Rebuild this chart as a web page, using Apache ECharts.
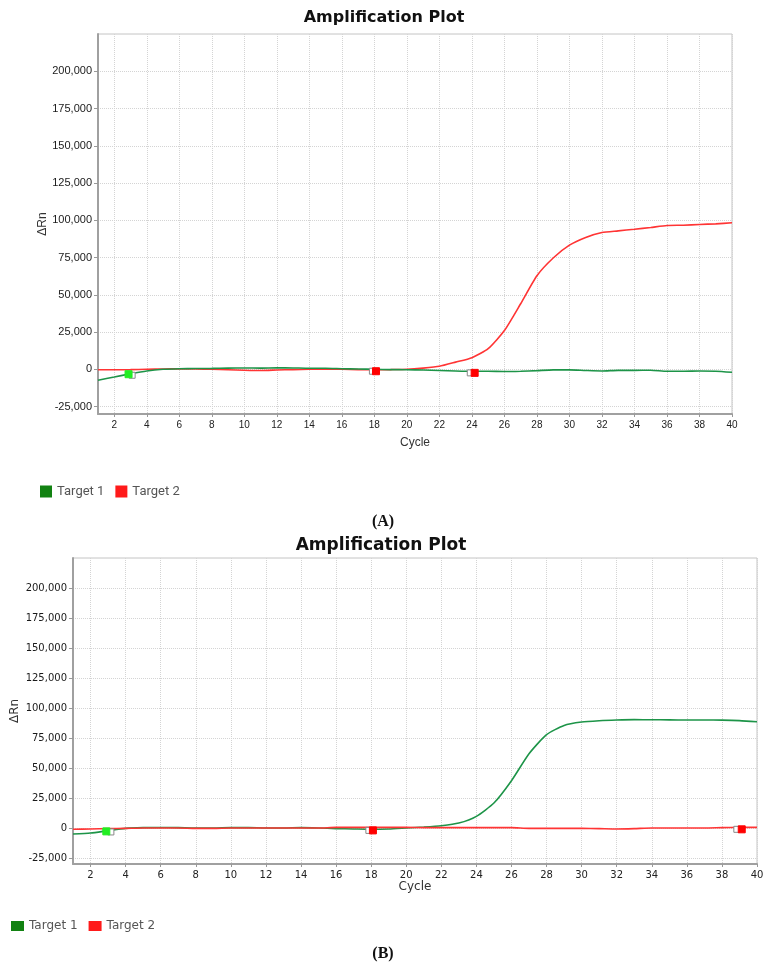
<!DOCTYPE html>
<html>
<head>
<meta charset="utf-8">
<script src="https://cdn.jsdelivr.net/npm/echarts@6/dist/echarts.min.js"></script>
<style>
  html, body { margin: 0; padding: 0; background: #fff; }
  #main { width: 769px; height: 971px; }
</style>
</head>
<body>
<div id="main"></div>
<script>
// cycles and tick values
var cycles = [1, 2, 3, 4, 5, 6, 7, 8, 9, 10, 11, 12, 13, 14, 15, 16, 17, 18, 19, 20,
	21, 22, 23, 24, 25, 26, 27, 28, 29, 30, 31, 32, 33, 34, 35, 36, 37, 38, 39, 40];
var xTicks = [2, 4, 6, 8, 10, 12, 14, 16, 18, 20, 22, 24, 26, 28, 30, 32, 34, 36, 38, 40];
var yTicks = [-25000, 0, 25000, 50000, 75000, 100000, 125000, 150000, 175000, 200000];

// (A) ΔRn per cycle
var aTarget1 = [-7300, -5200, -3000, -1100, 0, 400, 500, 600, 800, 900,
	800, 1000, 900, 700, 700, 400, 200, 0, -200, -300,
	-500, -800, -1100, -1300, -1300, -1500, -1300, -900, -400, -400,
	-800, -1100, -700, -700, -600, -1300, -1300, -1100, -1300, -2000];
var aTarget2 = [-300, -300, -200, 0, 200, 300, 200, 0, -300, -600,
	-800, -500, -200, 0, 100, 0, -200, -300, -200, 0,
	800, 2000, 4800, 7800, 13800, 26000, 44000, 62800, 74700, 83300,
	88500, 91800, 92900, 94000, 95200, 96500, 96700, 97200, 97600, 98300];

// (B) ΔRn per cycle
var bTarget1 = [-5000, -4200, -2200, -300, 300, 400, 300, 0, 0, 300,
	300, 0, 0, 300, 0, -500, -800, -1100, -800, 0,
	800, 1900, 4100, 9700, 20800, 39400, 61900, 77800, 85500, 88300,
	89400, 90000, 90300, 90200, 90100, 90000, 90000, 89900, 89500, 88600];
var bTarget2 = [-1100, -800, -500, -300, 0, 0, 0, -300, -300, 0,
	0, 0, 0, 0, 0, 500, 500, 500, 500, 500,
	300, 300, 300, 300, 300, 300, -300, -300, -300, -300,
	-500, -800, -500, 0, 0, 0, 0, 300, 500, 500];

// baseline markers [cycle, value]
var aMark1 = [[2.88, -3300]];
var aMark1Open = [[3.1, -4000]];
var aMark2 = [[18.1, -1300], [24.17, -2400]];
var aMark2Open = [[17.88, -1300], [23.9, -2400]];
var bMark1 = [[2.9, -2800]];
var bMark1Open = [[3.16, -3300]];
var bMark2 = [[18.1, -2000], [39.13, -1100]];
var bMark2Open = [[17.87, -2000], [38.85, -1100]];

var GREEN_LINE = '#1d9448';
var RED_LINE = '#ff3434';

function pairs(vals) {
	return cycles.map(function (c, i) { return [c, vals[i]]; });
}

function fmt(v) {
	return v.toLocaleString('en-US');
}

function xAxisFor(idx, font, nameGap) {
	return {
		type: 'value', gridIndex: idx, min: 1, max: 40,
		name: 'Cycle', nameLocation: 'middle', nameGap: nameGap, nameMoveOverlap: false,
		nameTextStyle: { fontFamily: font, fontSize: 12, color: '#333' },
		axisLine: { show: true, onZero: false, lineStyle: { color: '#a0a0a0', width: 2 } },
		axisTick: { show: true, length: 3, customValues: xTicks, lineStyle: { color: '#999' } },
		axisLabel: { customValues: xTicks, fontFamily: font, fontSize: 10, color: '#222', margin: 6 },
		splitLine: { show: true, lineStyle: { color: '#d4d4d4', type: 'dotted', width: 1 } }
	};
}

function yAxisFor(idx, font, size, nameGap) {
	return {
		type: 'value', gridIndex: idx, min: -30000, max: 225000,
		name: 'ΔRn', nameLocation: 'middle', nameGap: nameGap, nameMoveOverlap: false,
		nameTextStyle: { fontFamily: font, fontSize: 12, color: '#333' },
		axisLine: { show: true, lineStyle: { color: '#a0a0a0', width: 2 } },
		axisTick: { show: true, length: 4, customValues: yTicks, lineStyle: { color: '#999' } },
		axisLabel: { customValues: yTicks, formatter: fmt, fontFamily: font, fontSize: size, color: '#1a1a1a', margin: 6 },
		splitLine: { show: true, lineStyle: { color: '#d4d4d4', type: 'dotted', width: 1 } }
	};
}

function lineSeries(name, idx, vals, color) {
	return {
		name: name, type: 'line', xAxisIndex: idx, yAxisIndex: idx,
		data: pairs(vals), smooth: 0.2, showSymbol: false, symbol: 'none',
		lineStyle: { color: color, width: 1.6 }, itemStyle: { color: color },
		silent: true, z: 3
	};
}

function markSeries(idx, pts, fill, border, size) {
	return {
		type: 'scatter', xAxisIndex: idx, yAxisIndex: idx, data: pts,
		symbol: 'rect', symbolSize: size,
		itemStyle: { color: fill, borderColor: border, borderWidth: 1, opacity: 1 },
		silent: true, z: 5
	};
}

var myChart = echarts.init(document.getElementById('main'));

var option = {
	animation: false,
	backgroundColor: '#fff',
	grid: [
		{ left: 98, top: 34, right: 37, bottom: 557, show: true, borderColor: '#c4c4c4', borderWidth: 1, outerBoundsMode: 'none' },
		{ left: 73, top: 558, right: 12, bottom: 107, show: true, borderColor: '#c4c4c4', borderWidth: 1, outerBoundsMode: 'none' }
	],
	xAxis: [xAxisFor(0, 'Liberation Sans', 23), xAxisFor(1, 'DejaVu Sans', 17)],
	yAxis: [yAxisFor(0, 'Liberation Sans', 11, 49), yAxisFor(1, 'DejaVu Sans', 10, 52)],
	legend: [
		{
			left: 40, top: 485, padding: 0, itemWidth: 12, itemHeight: 12, itemGap: 11,
			icon: 'rect', selectedMode: false,
			textStyle: { fontFamily: 'Roboto', fontSize: 13, color: '#555' },
			data: [
				{ name: 'Target 1', itemStyle: { color: '#128212' } },
				{ name: 'Target 2', itemStyle: { color: '#ff1a1a' } }
			]
		},
		{
			left: 11, top: 920, padding: 0, itemWidth: 13, itemHeight: 10, itemGap: 11,
			icon: 'rect', selectedMode: false,
			textStyle: { fontFamily: 'DejaVu Sans', fontSize: 12, color: '#555' },
			data: [
				{ name: 'Target 1', itemStyle: { color: '#128212' } },
				{ name: 'Target 2', itemStyle: { color: '#ff1a1a' } }
			]
		}
	],
	graphic: [
		{ type: 'text', x: 384, y: 18, style: { text: 'Amplification Plot', fontFamily: 'DejaVu Sans', fontWeight: 'bold', fontSize: 16, fill: '#111', textAlign: 'center', textVerticalAlign: 'middle' } },
		{ type: 'text', x: 383, y: 522, style: { text: '(A)', fontFamily: 'Liberation Serif', fontWeight: 'bold', fontSize: 16, fill: '#111', textAlign: 'center', textVerticalAlign: 'middle' } },
		{ type: 'text', x: 381, y: 546, style: { text: 'Amplification Plot', fontFamily: 'DejaVu Sans', fontWeight: 'bold', fontSize: 17, fill: '#111', textAlign: 'center', textVerticalAlign: 'middle' } },
		{ type: 'text', x: 383, y: 954, style: { text: '(B)', fontFamily: 'Liberation Serif', fontWeight: 'bold', fontSize: 16, fill: '#111', textAlign: 'center', textVerticalAlign: 'middle' } }
	],
	series: [
		lineSeries('Target 2', 0, aTarget2, RED_LINE),
		lineSeries('Target 1', 0, aTarget1, GREEN_LINE),
		markSeries(0, aMark1Open, '#fff', '#888', 6),
		markSeries(0, aMark1, '#22ee22', '#22ee22', 7),
		markSeries(0, aMark2Open, '#fff', '#888', 6),
		markSeries(0, aMark2, '#ff0000', '#ff0000', 7),
		lineSeries('Target 1', 1, bTarget1, GREEN_LINE),
		lineSeries('Target 2', 1, bTarget2, RED_LINE),
		markSeries(1, bMark1Open, '#fff', '#888', 6),
		markSeries(1, bMark1, '#22ee22', '#22ee22', 7),
		markSeries(1, bMark2Open, '#fff', '#888', 6),
		markSeries(1, bMark2, '#ff0000', '#ff0000', 7)
	]
};

myChart.setOption(option);
</script>
</body>
</html>
